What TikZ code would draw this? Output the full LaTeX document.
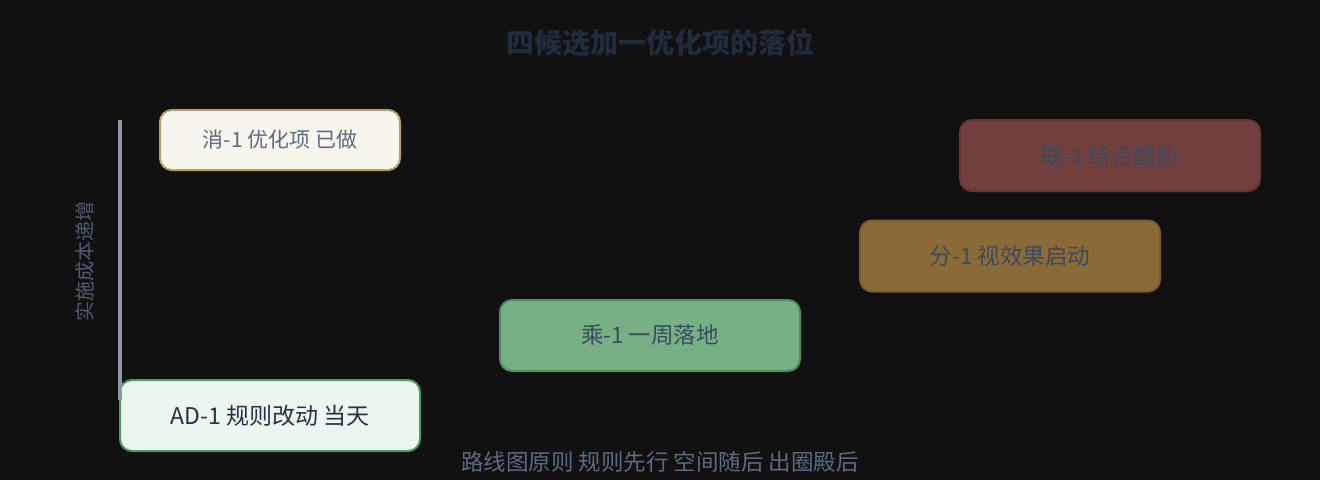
\documentclass[tikz,border=0pt]{standalone}
\usepackage{fontspec}
\setmainfont{Noto Sans CJK SC}
\usepackage{tikz}

\definecolor{bgc}{HTML}{111111}
\definecolor{titlec}{HTML}{1F2C3D}
\definecolor{axisc}{HTML}{9097AB}
\definecolor{axistextc}{HTML}{4B5C74}
\definecolor{capc}{HTML}{5B6B82}
\definecolor{xiaofill}{HTML}{F7F5EC}
\definecolor{xiaodraw}{HTML}{B5A06A}
\definecolor{lianfill}{HTML}{723F3F}
\definecolor{liandraw}{HTML}{663535}
\definecolor{fenfill}{HTML}{8A6A36}
\definecolor{fendraw}{HTML}{7A5C31}
\definecolor{chengfill}{HTML}{78B085}
\definecolor{chengdraw}{HTML}{4F8C5E}
\definecolor{adfill}{HTML}{EAF6EE}
\definecolor{addraw}{HTML}{4E9A64}
\definecolor{darktext}{HTML}{3A4A60}
\definecolor{adtext}{HTML}{253245}

\newcommand{\fsz}[1]{\fontsize{#1pt}{#1pt}\selectfont}

\begin{document}
\begin{tikzpicture}[x=1pt,y=-1pt,
    item/.style={draw, line width=2pt, rounded corners=12pt, minimum width=300pt,
                 minimum height=71pt, inner sep=0pt, text=darktext, font=\fsz{22.5}}]
                            \fill[bgc] (0,0) rectangle (1320,480);
                            \useasboundingbox (0,0) rectangle (1320,480);
                            \node[text=titlec, font=\fsz{28}\bfseries] (T) at (660,43) {四候选加一优化项的落位};
                            \node[text=axistextc, font=\fsz{20}, rotate=90] (A_lab) at (85,261) {实施成本递增};
                            \node[item, fill=xiaofill, draw=xiaodraw, minimum width=240pt, minimum height=60pt,
                                  text=capc, font=\fsz{21}] (X_1) at (280,140) {消-1 优化项 已做};
                            \node[item, fill=lianfill, draw=liandraw] (L_1) at (1110,155.5) {联-1 结合翻新};
                            \node[item, fill=fenfill, draw=fendraw] (F_1) at (1010,256) {分-1 视效果启动};
                            \node[item, fill=chengfill, draw=chengdraw] (C_1) at (650,335.5) {乘-1 一周落地};
                            \node[item, fill=adfill, draw=addraw, text=adtext, font=\fsz{23}] (AD_1) at (270,415.5) {AD-1 规则改动 当天};
                            \draw[axisc, line width=3.5pt] (120,120) coordinate (A_top) -- (120,400) coordinate (A_bot);
                            \node[text=capc, font=\fsz{22.5}] (Cap) at (660,462) {路线图原则 规则先行 空间随后 出圈殿后};
                        \end{tikzpicture}
\end{document}
